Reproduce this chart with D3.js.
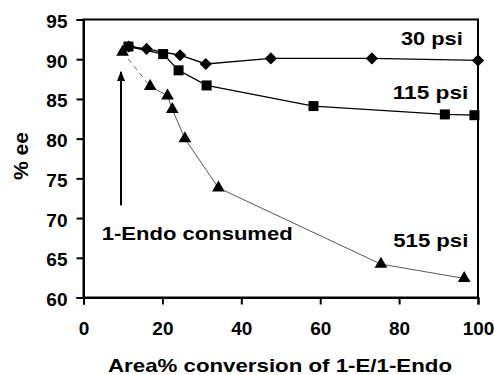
<!DOCTYPE html>
<html>
<head>
<meta charset="utf-8">
<script src="https://cdn.jsdelivr.net/npm/d3@7"></script>
<style>
  body { margin: 0; background: #fff; }
  text { font-family: Arial, "Liberation Sans", sans-serif; font-weight: bold; fill: #000; }
</style>
</head>
<body>
<div id="chart"></div>
<script>
// data
const xTicks = [0, 20, 40, 60, 80, 100];
const yTicks = [60, 65, 70, 75, 80, 85, 90, 95];

const psi30_x = [11.5, 16.0, 24.5, 31.0, 47.5, 73.1, 100];
const psi30_y = [91.6, 91.3, 90.5, 89.4, 90.1, 90.1, 89.85];

const psi115_x = [11.4, 20.2, 24.1, 31.2, 58.3, 91.6, 99.1];
const psi115_y = [91.6, 90.65, 88.6, 86.7, 84.1, 83.05, 82.95];

const psi515_x = [9.9, 16.9, 21.3, 22.5, 25.7, 34.2, 75.4, 96.5];
const psi515_y = [90.9, 86.6, 85.4, 83.7, 80.0, 73.8, 64.2, 62.4];

const arrow_x = 9.5;
const arrow_y = [71.6, 88.4];

const width = 495, height = 375;
const margin = { left: 83.5, right: 17, top: 19.5, bottom: 77.5 };
const FONT = 19;

const svg = d3.select("#chart").append("svg")
    .attr("width", width)
    .attr("height", height);

const x = d3.scaleLinear().domain([0, 100]).range([margin.left, width - margin.right]);
const y = d3.scaleLinear().domain([60, 95]).range([height - margin.bottom, margin.top]);

// 프레임
svg.append("rect")
    .attr("x", x(0)).attr("y", y(95))
    .attr("width", x(100) - x(0)).attr("height", y(60) - y(95))
    .attr("fill", "none").attr("stroke", "#000").attr("stroke-width", 2);

// axes
const xAxis = svg.append("g")
    .attr("transform", `translate(0,${y(60)})`)
    .call(d3.axisBottom(x).tickValues(xTicks).tickSize(7).tickPadding(17));
const yAxis = svg.append("g")
    .attr("transform", `translate(${x(0)},0)`)
    .call(d3.axisLeft(y).tickValues(yTicks).tickSize(7).tickPadding(9));

[xAxis, yAxis].forEach(g => {
    g.select(".domain").attr("stroke-width", 2);
    g.selectAll(".tick line").attr("stroke-width", 2);
    g.selectAll(".tick text").style("font-size", FONT + "px")
        .style("font-family", "Arial, 'Liberation Sans', sans-serif")
        .style("font-weight", "bold");
});
xAxis.selectAll(".tick text").attr("dy", "0.72em");
yAxis.selectAll(".tick text").attr("dy", "0.42em");

// axis titles
svg.append("text")
    .attr("x", 280).attr("y", 371.5)
    .attr("text-anchor", "middle")
    .attr("textLength", 344).attr("lengthAdjust", "spacingAndGlyphs")
    .style("font-size", FONT + "px")
    .text("Area% conversion of 1-E/1-Endo");

svg.append("text")
    .attr("transform", "translate(28,156) rotate(-90)")
    .attr("text-anchor", "middle")
    .attr("textLength", 48).attr("lengthAdjust", "spacingAndGlyphs")
    .style("font-size", "20px")
    .text("% ee");

const toPts = (xs, ys) => xs.map((v, i) => [v, ys[i]]);
const line = d3.line().x(d => x(d[0])).y(d => y(d[1]));

const d30 = toPts(psi30_x, psi30_y);
const d115 = toPts(psi115_x, psi115_y);
const d515 = toPts(psi515_x, psi515_y);

svg.append("path").datum(d30).attr("d", line)
    .attr("fill", "none").attr("stroke", "#000").attr("stroke-width", 1.3);
svg.append("path").datum(d115).attr("d", line)
    .attr("fill", "none").attr("stroke", "#000").attr("stroke-width", 1.3);
// 515 psi: first segment dashed
svg.append("path").datum(d515.slice(0, 2)).attr("d", line)
    .attr("fill", "none").attr("stroke", "#555").attr("stroke-width", 0.9)
    .attr("stroke-dasharray", "5,4");
svg.append("path").datum(d515.slice(1)).attr("d", line)
    .attr("fill", "none").attr("stroke", "#444").attr("stroke-width", 0.9);

// markers
svg.append("g").selectAll("path").data(d30).enter().append("path")
    .attr("transform", d => `translate(${x(d[0])},${y(d[1])})`)
    .attr("d", d3.symbol(d3.symbolDiamond2, 95))
    .attr("fill", "#000");
svg.append("g").selectAll("rect").data(d115).enter().append("rect")
    .attr("x", d => x(d[0]) - 5).attr("y", d => y(d[1]) - 5)
    .attr("width", 10).attr("height", 10)
    .attr("fill", "#000");
svg.append("g").selectAll("path").data(d515).enter().append("path")
    .attr("transform", d => `translate(${x(d[0])},${y(d[1])})`)
    .attr("d", d3.symbol(d3.symbolTriangle, 70))
    .attr("fill", "#000");

// arrow
svg.append("defs").append("marker")
    .attr("id", "arrowhead")
    .attr("viewBox", "0 0 10 10").attr("refX", 9).attr("refY", 5)
    .attr("markerWidth", 5).attr("markerHeight", 5)
    .attr("markerUnits", "strokeWidth")
    .attr("orient", "auto")
    .append("path").attr("d", "M0,1 L10,5 L0,9 Z").attr("fill", "#000");

svg.append("line")
    .attr("x1", x(arrow_x)).attr("y1", y(arrow_y[0]))
    .attr("x2", x(arrow_x)).attr("y2", y(arrow_y[1]))
    .attr("stroke", "#000").attr("stroke-width", 2)
    .attr("marker-end", "url(#arrowhead)");

// labels
const labels = [
    { t: "30 psi", x: 401, y: 45, w: 61.7 },
    { t: "115 psi", x: 392.7, y: 99, w: 75.6 },
    { t: "515 psi", x: 393.3, y: 246.5, w: 75 },
    { t: "1-Endo consumed", x: 101.7, y: 240, w: 191 }
];
svg.append("g").selectAll("text").data(labels).enter().append("text")
    .attr("x", d => d.x).attr("y", d => d.y)
    .attr("textLength", d => d.w).attr("lengthAdjust", "spacingAndGlyphs")
    .style("font-size", FONT + "px")
    .text(d => d.t);
</script>
</body>
</html>
